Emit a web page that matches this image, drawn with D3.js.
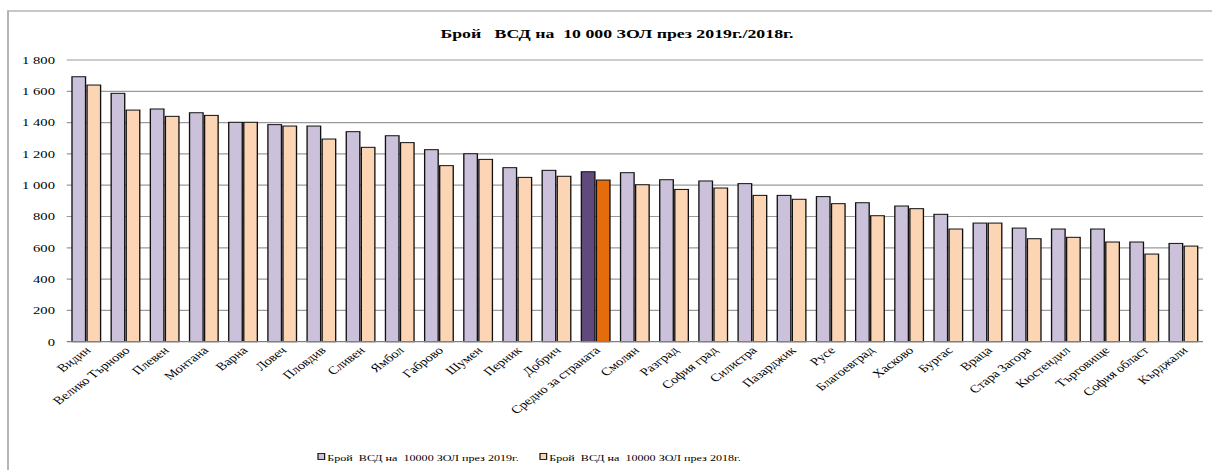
<!DOCTYPE html>
<html>
<head>
<meta charset="utf-8">
<script src="https://cdn.jsdelivr.net/npm/d3@7"></script>
<style>
  body { margin: 0; background: #fff; }
  text { font-family: "Liberation Serif", "Times New Roman", serif; fill: #000; white-space: pre; }
</style>
</head>
<body>
<div id="chart"></div>
<script>
// regions, sorted like the source chart
const regions = ["Видин", "Велико Търново", "Плевен", "Монтана", "Варна", "Ловеч", "Пловдив",
  "Сливен", "Ямбол", "Габрово", "Шумен", "Перник", "Добрич", "Средно за страната", "Смолян",
  "Разград", "София град", "Силистра", "Пазарджик", "Русе", "Благоевград", "Хасково", "Бургас",
  "Враца", "Стара Загора", "Кюстендил", "Търговище", "София област", "Кърджали"];

const values2019 = [1693, 1587, 1487, 1463, 1402, 1387, 1378, 1342, 1316, 1227, 1201, 1112, 1095,
  1086, 1080, 1035, 1027, 1010, 935, 927, 888, 867, 814, 758, 726, 720, 720, 637, 628];
const values2018 = [1640, 1480, 1440, 1446, 1402, 1378, 1295, 1242, 1272, 1125, 1165, 1050, 1057,
  1033, 1003, 973, 982, 935, 910, 882, 805, 850, 720, 758, 658, 667, 637, 560, 611];

const yTicks = [0, 200, 400, 600, 800, 1000, 1200, 1400, 1600, 1800];
const seriesNames = ["Брой  ВСД на  10000 ЗОЛ през 2019г.", "Брой  ВСД на  10000 ЗОЛ през 2018г."];
const titleText = "Брой   ВСД на  10 000 ЗОЛ през 2019г./2018г.";
const avgName = "Средно за страната";

// the source picture is stretched sideways, so draw narrow and scale the whole thing
const sx = 1.33;
const W = 1212, H = 470;

const plotLeft = 66.7 / sx, plotRight = 1203 / sx;
const plotTop = 60, plotBottom = 341.7;

const svg = d3.select("#chart").append("svg")
  .attr("width", W)
  .attr("height", H);

const g = svg.append("g").attr("transform", `scale(${sx},1)`);

// frame of the chart object
g.append("rect")
  .attr("x", 8 / sx).attr("y", 11)
  .attr("width", 1400).attr("height", 600)
  .attr("fill", "none")
  .attr("stroke", "#aaaaaa")
  .attr("stroke-width", 1.3);

g.append("text")
  .attr("x", 617 / sx).attr("y", 38)
  .attr("text-anchor", "middle")
  .style("font-size", "13.4px")
  .style("font-weight", "bold")
  .text(titleText);

const x0 = d3.scaleBand()
  .domain(regions)
  .range([plotLeft, plotRight])
  .paddingInner(0.27)
  .paddingOuter(0.135);

const x1 = d3.scaleBand()
  .domain([0, 1])
  .range([0, x0.bandwidth()])
  .paddingInner(0.1);

const y = d3.scaleLinear()
  .domain([0, 1800])
  .range([plotBottom, plotTop]);

// gridlines
g.append("g")
  .selectAll("line")
  .data(yTicks.filter(d => d > 0))
  .join("line")
  .attr("x1", plotLeft).attr("x2", plotRight)
  .attr("y1", d => y(d)).attr("y2", d => y(d))
  .attr("stroke", "#9a9a9a")
  .attr("stroke-width", 1.2);

// y labels
g.append("g")
  .selectAll("text")
  .data(yTicks)
  .join("text")
  .attr("x", 55 / sx)
  .attr("y", d => y(d))
  .attr("dy", "0.35em")
  .attr("text-anchor", "end")
  .style("font-size", "11px")
  .text(d => d3.format(",")(d).replace(",", " "));

const fill2019 = d => d === avgName ? "#604a7b" : "#ccc1da";
const fill2018 = d => d === avgName ? "#e46c0a" : "#fcd5b5";

const rows = regions.map((r, i) => ({ region: r, v: [values2019[i], values2018[i]] }));

const groups = g.append("g")
  .selectAll("g")
  .data(rows)
  .join("g")
  .attr("transform", d => `translate(${x0(d.region)},0)`);

groups.selectAll("rect")
  .data(d => d.v.map((v, k) => ({ region: d.region, k: k, v: v })))
  .join("rect")
  .attr("x", d => x1(d.k))
  .attr("y", d => y(d.v))
  .attr("width", x1.bandwidth())
  .attr("height", d => y(0) - y(d.v))
  .attr("fill", d => d.k === 0 ? fill2019(d.region) : fill2018(d.region))
  .attr("stroke", "#111")
  .attr("stroke-width", 1);

// zero line
g.append("line")
  .attr("x1", plotLeft).attr("x2", plotRight)
  .attr("y1", y(0)).attr("y2", y(0))
  .attr("stroke", "#808080")
  .attr("stroke-width", 1.2);

// category labels, rotated
g.append("g")
  .selectAll("text")
  .data(regions)
  .join("text")
  .attr("transform", d => `translate(${x0(d) + x0.bandwidth() / 2 - 1.5},${plotBottom + 4}) rotate(-45)`)
  .attr("dy", "0.7em")
  .attr("text-anchor", "end")
  .style("font-size", "11px")
  .text(d => d);

// legend
const legend = g.append("g");
const legendX = [318 / sx, 540 / sx];
seriesNames.forEach((name, i) => {
  legend.append("rect")
    .attr("x", legendX[i]).attr("y", 453.5)
    .attr("width", 5).attr("height", 6)
    .attr("fill", i === 0 ? "#ccc1da" : "#fcd5b5")
    .attr("stroke", "#111")
    .attr("stroke-width", 0.9);
  legend.append("text")
    .attr("x", legendX[i] + 7)
    .attr("y", 461)
    .style("font-size", "9.1px")
    .text(name);
});
</script>
</body>
</html>
